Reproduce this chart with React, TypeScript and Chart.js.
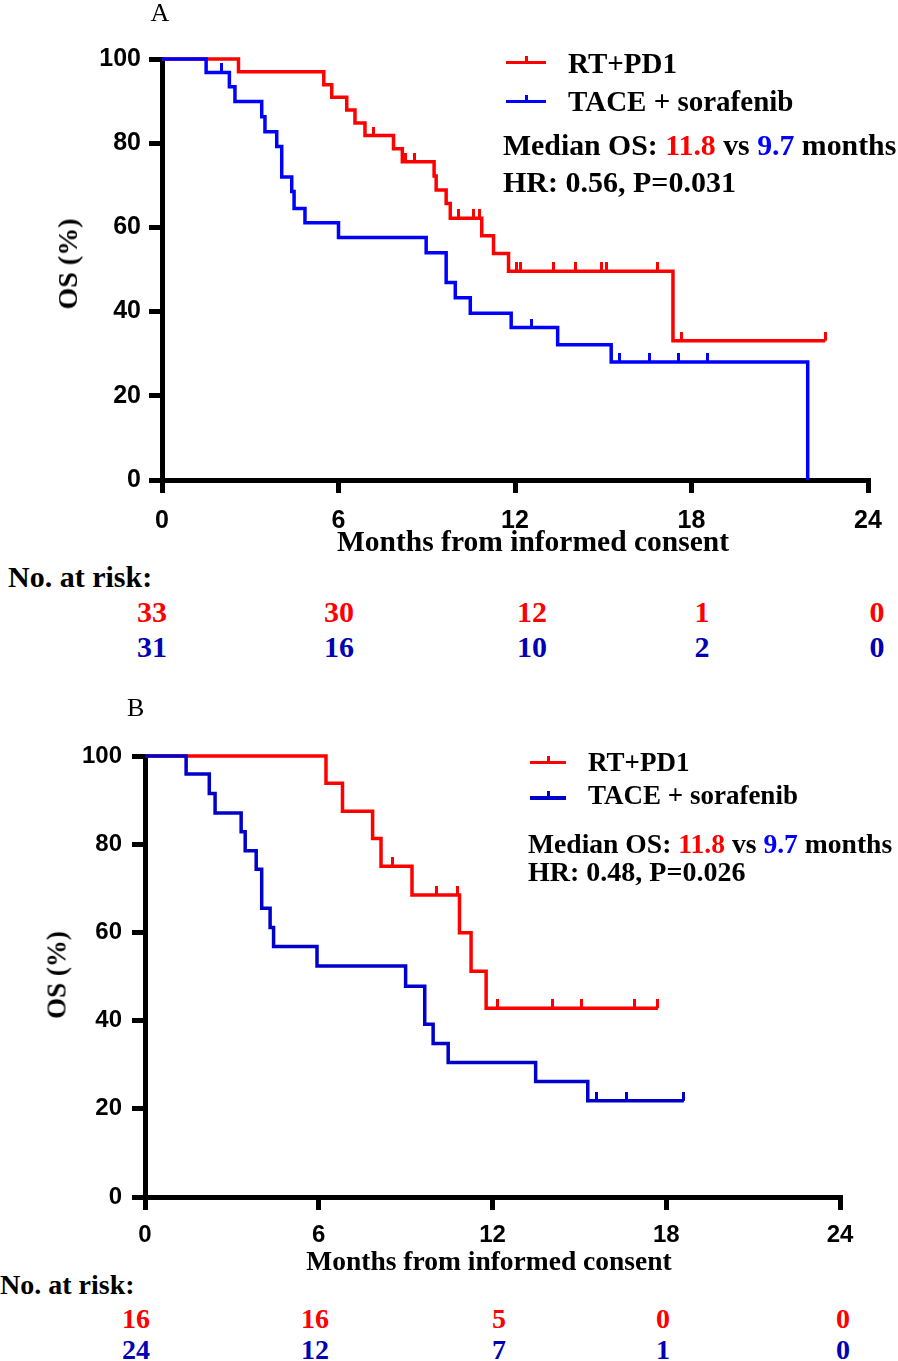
import React, { useEffect, useRef } from 'react';
import { Chart, registerables } from 'chart.js';

Chart.register(...registerables);

const RED = '#ff0000';
const BLUE = '#0000ff';
const BLUE_B = '#0000cc';
const RISK_BLUE = '#0000b4';

const monthTicks = [0, 6, 12, 18, 24];
const osTicks = [0, 20, 40, 60, 80, 100];

// ---- Panel A (all patients) ----
const aRedTimes = [0, 2.6, 5.5, 5.77, 6.28, 6.56, 6.9, 7.87, 8.17, 9.25, 9.32, 9.66, 9.8, 10.87, 11.27, 11.78, 17.37];
const aRedSurv = [100, 97.0, 93.9, 90.9, 87.9, 84.8, 81.8, 78.7, 75.6, 72.2, 68.9, 65.7, 62.2, 58.0, 53.8, 49.6, 33.1];
const aRedCensor = [7.19, 8.27, 8.6, 10.08, 10.6, 10.78, 12.05, 12.2, 13.3, 14.07, 14.95, 15.1, 16.86, 17.67, 22.55];
const aRedLast = 22.55;

const aBlueTimes = [0, 1.5, 2.29, 2.48, 3.39, 3.5, 3.9, 4.07, 4.41, 4.49, 4.86, 6.0, 8.98, 9.66, 9.97, 10.48, 11.87, 13.45, 15.27, 21.95];
const aBlueSurv = [100, 96.8, 93.4, 89.9, 86.3, 82.7, 79.2, 72.0, 68.5, 64.5, 61.1, 57.6, 54.0, 46.9, 43.3, 39.6, 36.2, 32.1, 28.0, 0];
const aBlueCensor = [2.03, 12.57, 15.55, 16.56, 17.56, 18.56];
const aBlueLast = 21.95;

const aRiskRed = [33, 30, 12, 1, 0];
const aRiskBlue = [31, 16, 10, 2, 0];

// ---- Panel B (subgroup) ----
const bRedTimes = [0, 6.25, 6.82, 7.86, 8.15, 9.22, 10.86, 11.26, 11.78];
const bRedSurv = [100, 93.8, 87.5, 81.3, 75.0, 68.5, 59.9, 51.2, 42.8];
const bRedCensor = [8.55, 10.06, 10.78, 12.16, 14.08, 15.07, 16.9, 17.71];
const bRedLast = 17.71;

const bBlueTimes = [0, 1.42, 2.22, 2.42, 3.32, 3.46, 3.84, 4.03, 4.32, 4.44, 5.94, 9.0, 9.66, 9.95, 10.47, 13.49, 15.29];
const bBlueSurv = [100, 95.9, 91.5, 87.1, 82.8, 78.5, 74.3, 65.5, 61.1, 56.8, 52.4, 47.8, 39.2, 34.8, 30.5, 26.2, 21.8];
const bBlueCensor = [15.6, 16.62, 18.61];
const bBlueLast = 18.61;

const bRiskRed = [16, 16, 5, 0, 0];
const bRiskBlue = [24, 12, 7, 1, 0];

const SERIF = "'Liberation Serif', 'Times New Roman', serif";
const SANS = "'Liberation Sans', Arial, sans-serif";

function stepAt(times: number[], surv: number[], t: number) {
  let v = surv[0];
  for (let i = 0; i < times.length; i++) if (times[i] <= t) v = surv[i];
  return v;
}

function curvePoints(times: number[], surv: number[], last: number) {
  const pts = times.map((t, i) => ({ x: t, y: surv[i] }));
  if (last > times[times.length - 1]) pts.push({ x: last, y: surv[surv.length - 1] });
  return pts;
}

function censorPoints(times: number[], surv: number[], cens: number[]) {
  return cens.map((t) => ({ x: t, y: stepAt(times, surv, t) }));
}

function tickImage(color: string, h: number) {
  const c = document.createElement('canvas');
  c.width = 3;
  c.height = h * 2;
  const ctx = c.getContext('2d')!;
  ctx.fillStyle = color;
  ctx.fillRect(0, 0, 3, h);
  return c;
}

type Spec = {
  width: number;
  height: number;
  yWidth: number;
  padTop: number;
  padRight: number;
  xHeight: number;
  tickFont: number;
  yPad: number;
  xPad: number;
  blueColor: string;
  red: [number[], number[], number[], number];
  blue: [number[], number[], number[], number];
};

function buildConfig(spec: Spec): any {
  const [rt, rs, rc, rl] = spec.red;
  const [bt, bs, bc, bl] = spec.blue;
  const gridOpts = {
    display: true,
    drawOnChartArea: false,
    drawTicks: true,
    tickLength: 13,
    lineWidth: 5,
    tickWidth: 5,
    color: '#000',
    tickColor: '#000',
  };
  const border = { display: true, width: 5, color: '#000' };
  const font = { family: SANS, size: spec.tickFont, weight: 'bold' };
  return {
    type: 'line',
    data: {
      datasets: [
        {
          label: 'TACE + sorafenib censored',
          data: censorPoints(bt, bs, bc),
          showLine: false,
          pointStyle: tickImage(spec.blueColor, 9),
          pointRadius: 5,
          clip: false,
          order: 0,
        },
        {
          label: 'TACE + sorafenib',
          data: curvePoints(bt, bs, bl),
          borderColor: spec.blueColor,
          borderWidth: 3.5,
          stepped: 'before',
          pointRadius: 0,
          fill: false,
          clip: false,
          order: 1,
        },
        {
          label: 'RT+PD1 censored',
          data: censorPoints(rt, rs, rc),
          showLine: false,
          pointStyle: tickImage(RED, 9),
          pointRadius: 5,
          clip: false,
          order: 2,
        },
        {
          label: 'RT+PD1',
          data: curvePoints(rt, rs, rl),
          borderColor: RED,
          borderWidth: 3.5,
          stepped: 'before',
          pointRadius: 0,
          fill: false,
          clip: false,
          order: 3,
        },
      ],
    },
    options: {
      responsive: false,
      animation: false,
      devicePixelRatio: 1,
      layout: { padding: { top: spec.padTop, right: spec.padRight, left: 0, bottom: 0 } },
      plugins: { legend: { display: false }, tooltip: { enabled: false }, title: { display: false } },
      scales: {
        x: {
          type: 'linear',
          min: 0,
          max: 24,
          afterBuildTicks: (s: any) => {
            s.ticks = monthTicks.map((v) => ({ value: v }));
          },
          afterFit: (s: any) => {
            s.height = spec.xHeight;
          },
          grid: gridOpts,
          border,
          ticks: { font, color: '#000', padding: spec.xPad, autoSkip: false, maxRotation: 0 },
        },
        y: {
          type: 'linear',
          min: 0,
          max: 100,
          afterBuildTicks: (s: any) => {
            s.ticks = osTicks.map((v) => ({ value: v }));
          },
          afterFit: (s: any) => {
            s.width = spec.yWidth;
          },
          grid: gridOpts,
          border,
          ticks: { font, color: '#000', padding: spec.yPad },
        },
      },
    },
  };
}

const specA: Spec = {
  width: 898,
  height: 545,
  yWidth: 162,
  padTop: 59,
  padRight: 30,
  xHeight: 65,
  tickFont: 25,
  yPad: 8,
  xPad: 13,
  blueColor: BLUE,
  red: [aRedTimes, aRedSurv, aRedCensor, aRedLast],
  blue: [aBlueTimes, aBlueSurv, aBlueCensor, aBlueLast],
};

const specB: Spec = {
  width: 898,
  height: 560,
  yWidth: 145,
  padTop: 56,
  padRight: 58,
  xHeight: 63,
  tickFont: 24,
  yPad: 10,
  xPad: 11,
  blueColor: BLUE_B,
  red: [bRedTimes, bRedSurv, bRedCensor, bRedLast],
  blue: [bBlueTimes, bBlueSurv, bBlueCensor, bBlueLast],
};

function KMCanvas({ spec, top }: { spec: Spec; top: number }) {
  const ref = useRef<HTMLCanvasElement>(null);
  useEffect(() => {
    const chart = new Chart(ref.current!, buildConfig(spec));
    return () => chart.destroy();
  }, [spec]);
  return (
    <canvas
      ref={ref}
      width={spec.width}
      height={spec.height}
      style={{ position: 'absolute', left: 0, top, width: spec.width, height: spec.height }}
    />
  );
}

function T(props: {
  x: number;
  base: number;
  size: number;
  bold?: boolean;
  color?: string;
  center?: boolean;
  children: React.ReactNode;
}) {
  const { x, base, size, bold = true, color = '#000', center, children } = props;
  return (
    <div
      style={{
        position: 'absolute',
        left: x,
        top: base - 0.8375 * size,
        fontFamily: SERIF,
        fontWeight: bold ? 'bold' : 'normal',
        fontSize: size,
        lineHeight: `${size}px`,
        color,
        whiteSpace: 'nowrap',
        transform: center ? 'translateX(-50%)' : undefined,
      }}
    >
      {children}
    </div>
  );
}

function Rot(props: { cx: number; cy: number; size: number; children: React.ReactNode }) {
  return (
    <div
      style={{
        position: 'absolute',
        left: props.cx,
        top: props.cy,
        fontFamily: SERIF,
        fontWeight: 'bold',
        fontSize: props.size,
        lineHeight: `${props.size}px`,
        whiteSpace: 'nowrap',
        transform: 'translate(-50%, -50%) rotate(-90deg)',
      }}
    >
      {props.children}
    </div>
  );
}

function LegendMark(props: { x: number; y: number; w: number; color: string }) {
  const { x, y, w, color } = props;
  return (
    <>
      <div style={{ position: 'absolute', left: x, top: y - 1.75, width: w, height: 3.5, background: color }} />
      <div style={{ position: 'absolute', left: x + w / 2 - 1.5, top: y - 7, width: 3, height: 7, background: color }} />
    </>
  );
}

function RiskRow(props: { values: number[]; xs: number[]; base: number; size: number; color: string }) {
  return (
    <>
      {props.values.map((v, i) => (
        <T key={i} x={props.xs[i]} base={props.base} size={props.size} color={props.color} center>
          {String(v)}
        </T>
      ))}
    </>
  );
}

const riskXA = [152, 339, 532, 702, 877];
const riskXB = [136, 315, 499, 663, 843];

export default function App() {
  useEffect(() => {
    document.body.style.margin = '0';
  }, []);
  return (
    <div style={{ position: 'relative', width: 898, height: 1361, background: '#fff', overflow: 'hidden' }}>
      <KMCanvas spec={specA} top={0} />
      <KMCanvas spec={specB} top={700} />

      {/* Panel A texts */}
      <T x={150.5} base={22} size={26} bold={false}>A</T>
      <LegendMark x={506} y={62.7} w={40} color={RED} />
      <LegendMark x={506} y={101.7} w={40} color={BLUE} />
      <T x={568} base={73} size={29}>RT+PD1</T>
      <T x={568} base={111.7} size={29}>TACE + sorafenib</T>
      <T x={503} base={155} size={29.8}>
        Median OS: <span style={{ color: RED }}>11.8</span> vs <span style={{ color: BLUE }}>9.7</span> months
      </T>
      <T x={503} base={191.7} size={30}>HR: 0.56, P=0.031</T>
      <Rot cx={67.5} cy={264} size={28}>OS (%)</Rot>
      <T x={533} base={552} size={29.5} center>Months from informed consent</T>
      <T x={8} base={587} size={30}>No. at risk:</T>
      <RiskRow values={aRiskRed} xs={riskXA} base={621.7} size={30} color={RED} />
      <RiskRow values={aRiskBlue} xs={riskXA} base={656.7} size={30} color={RISK_BLUE} />

      {/* Panel B texts */}
      <T x={127} base={717} size={26} bold={false}>B</T>
      <LegendMark x={530} y={762.7} w={36} color={RED} />
      <LegendMark x={530} y={798} w={36} color={BLUE_B} />
      <T x={588} base={772} size={27}>RT+PD1</T>
      <T x={588} base={805} size={27}>TACE + sorafenib</T>
      <T x={528} base={853} size={27.6}>
        Median OS: <span style={{ color: RED }}>11.8</span> vs <span style={{ color: BLUE }}>9.7</span> months
      </T>
      <T x={528} base={881.7} size={28}>HR: 0.48, P=0.026</T>
      <Rot cx={57} cy={975} size={27}>OS (%)</Rot>
      <T x={489} base={1270} size={27.5} center>Months from informed consent</T>
      <T x={0} base={1294} size={28}>No. at risk:</T>
      <RiskRow values={bRiskRed} xs={riskXB} base={1328} size={28} color={RED} />
      <RiskRow values={bRiskBlue} xs={riskXB} base={1359} size={28} color={RISK_BLUE} />
    </div>
  );
}
